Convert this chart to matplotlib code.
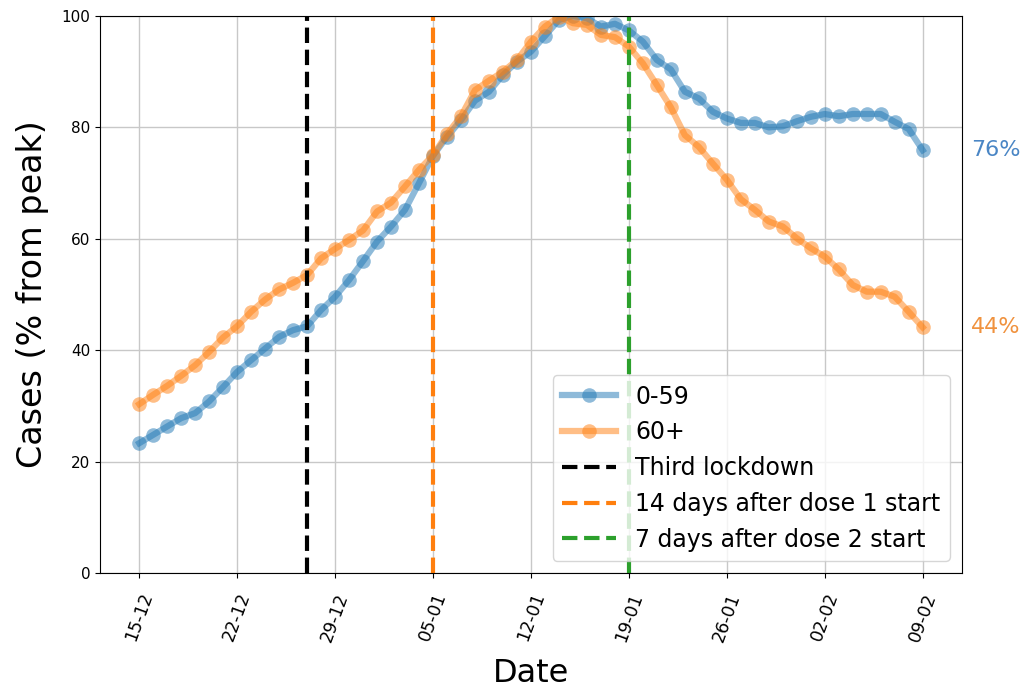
import matplotlib
matplotlib.use("Agg")
import matplotlib.pyplot as plt
import matplotlib.dates as mdates
import numpy as np
import pandas as pd

# daily cases as % of each group's peak, 15 Dec -> 9 Feb
dates = pd.date_range("2020-12-15", "2021-02-09", freq="D")
under60 = [23.3, 24.8, 26.3, 27.8, 28.7, 30.8, 33.4, 36.1, 38.2, 40.3,
           42.4, 43.6, 44.3, 47.2, 49.6, 52.6, 56.0, 59.5, 62.2, 65.2,
           70.0, 74.9, 78.3, 81.3, 84.8, 86.4, 89.4, 91.8, 93.6, 96.4,
           99.3, 100.0, 99.6, 98.1, 98.6, 97.4, 95.4, 92.1, 90.4, 86.4,
           85.2, 82.8, 81.6, 80.8, 80.8, 80.0, 80.2, 81.1, 81.9, 82.4,
           82.0, 82.4, 82.4, 82.4, 81.0, 79.7, 75.9]
over60 = [30.3, 32.0, 33.6, 35.4, 37.3, 39.7, 42.3, 44.3, 46.9, 49.1,
          50.9, 52.1, 53.5, 56.5, 58.2, 59.8, 61.5, 64.9, 66.5, 69.4,
          72.4, 75.0, 78.8, 82.0, 86.7, 88.4, 90.0, 92.1, 95.4, 98.1,
          99.9, 98.7, 98.4, 96.6, 96.2, 94.5, 91.5, 87.6, 83.6, 78.6,
          76.5, 73.5, 70.6, 67.1, 65.2, 63.1, 62.2, 60.1, 58.3, 56.8,
          54.5, 51.7, 50.5, 50.5, 49.6, 46.9, 44.1]

events = ["2020-12-27", "2021-01-05", "2021-01-19"]
event_labels = ["Third lockdown", "14 days after dose 1 start", "7 days after dose 2 start"]
event_colors = ["black", "tab:orange", "tab:green"]

fig = plt.figure(figsize=(10.26, 6.89), dpi=100)
ax = fig.add_axes([0.0975, 0.1684, 0.84, 0.8084])

ax.plot(dates, under60, "o-", color="tab:blue", alpha=0.5, lw=4.5, ms=10.5, mew=0, label="0-59")
ax.plot(dates, over60, "o-", color="tab:orange", alpha=0.5, lw=4.5, ms=10.5, mew=0, label="60+")
for d, lab, c in zip(events, event_labels, event_colors):
    ax.axvline(pd.Timestamp(d), color=c, ls="--", lw=3, label=lab)

ax.set_ylim(0, 100)
ax.set_xticks(dates[::7])
ax.xaxis.set_major_formatter(mdates.DateFormatter("%d-%m"))
ax.tick_params(axis="x", pad=9)
plt.setp(ax.get_xticklabels(), rotation=70, fontsize=12.5)
plt.setp(ax.get_yticklabels(), fontsize=11)
ax.grid(True, color="#c8c8c8", lw=1)
ax.set_xlabel("Date", fontsize=23, labelpad=10)
ax.set_ylabel("Cases (% from peak)", fontsize=24, labelpad=9)

# final value labels to the right of the axes
trans = matplotlib.transforms.blended_transform_factory(ax.transAxes, ax.transData)
ax.text(1.011, under60[-1], "{:.0f}%".format(under60[-1]), transform=trans,
        color="#4a86c5", fontsize=16, va="center", ha="left")
ax.text(1.011, over60[-1], "{:.0f}%".format(over60[-1]), transform=trans,
        color="#f0923e", fontsize=16, va="center", ha="left")

ax.legend(loc="lower right", fontsize=17, handlelength=2.3)
fig.savefig("out.png", dpi=100)
